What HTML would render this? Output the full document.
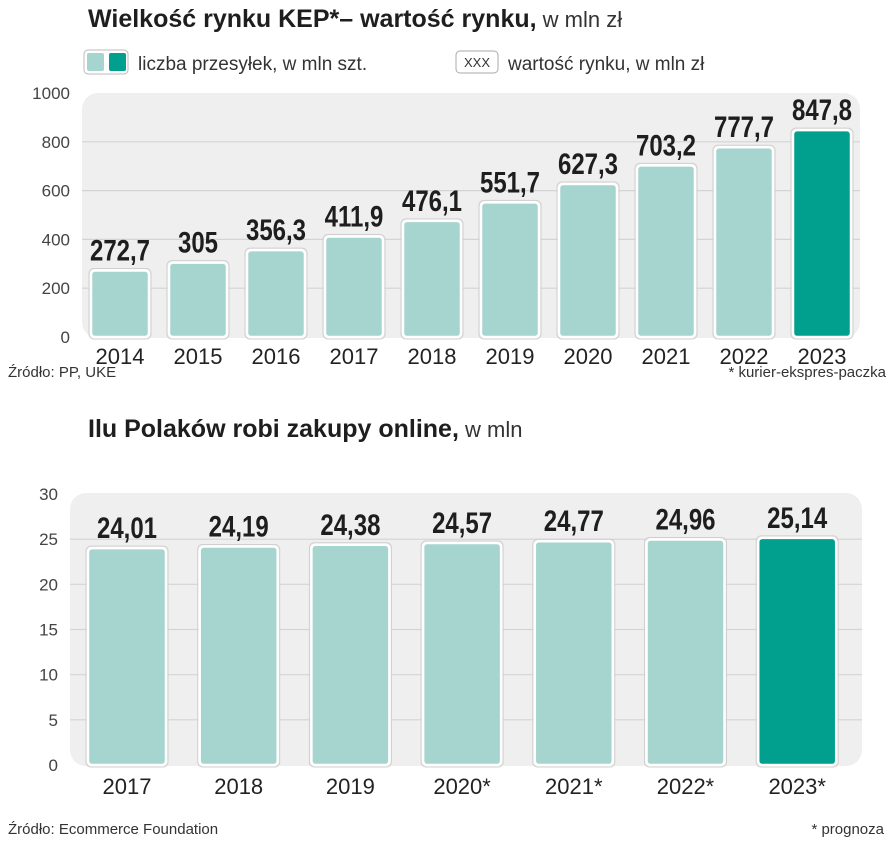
<!DOCTYPE html>
<html><head><meta charset="utf-8"><style>
body{margin:0;background:#fff;width:892px;height:854px;overflow:hidden;font-family:"Liberation Sans",sans-serif}
svg{display:block}
.t{font-family:"Liberation Sans",sans-serif}
.v{font-family:"Liberation Sans",sans-serif;font-weight:bold;fill:#1e1e1e}
</style></head><body>
<svg id="s" width="892" height="854">
<text class="t" x="88" y="27" font-size="25" font-weight="bold" fill="#1e1e1e">Wielkość rynku KEP*– wartość rynku,<tspan font-weight="normal" font-size="22" fill="#333"> w mln zł</tspan></text>
<g>
<rect x="84" y="50" width="44" height="24" rx="4" fill="#fff" stroke="#bbb"/>
<rect x="87" y="53" width="17" height="18" rx="2" fill="#a6d4cf"/>
<rect x="109" y="53" width="17" height="18" rx="2" fill="#009f8e"/>
<text class="t" x="138" y="70" font-size="19" fill="#333">liczba przesyłek, w mln szt.</text>
<rect x="456" y="51" width="42" height="22" rx="4" fill="#fff" stroke="#aaa"/>
<text class="t" x="477" y="67" font-size="13" fill="#333" text-anchor="middle">XXX</text>
<text class="t" x="508" y="70" font-size="19" fill="#333">wartość rynku, w mln zł</text>
</g>
<rect x="82" y="93" width="778" height="245" rx="16" fill="#efeff0"/>
<g id="top"></g>
<text class="t" x="8" y="377" font-size="15" fill="#333">Źródło: PP, UKE</text>
<text class="t" x="886" y="377" font-size="15" fill="#333" text-anchor="end">* kurier-ekspres-paczka</text>
<text class="t" x="88" y="437" font-size="25" font-weight="bold" fill="#1e1e1e">Ilu Polaków robi zakupy online,<tspan font-weight="normal" font-size="22" fill="#333"> w mln</tspan></text>
<rect x="70" y="493" width="792" height="273" rx="16" fill="#efeff0"/>
<g id="bot"></g>
<text class="t" x="8" y="834" font-size="15" fill="#333">Źródło: Ecommerce Foundation</text>
<text class="t" x="884" y="834" font-size="15" fill="#333" text-anchor="end">* prognoza</text>
</svg>
<script>
const topYears=["2014","2015","2016","2017","2018","2019","2020","2021","2022","2023"];
const topValues=[272.7,305,356.3,411.9,476.1,551.7,627.3,703.2,777.7,847.8];
const topLabels=["272,7","305","356,3","411,9","476,1","551,7","627,3","703,2","777,7","847,8"];
const topTicks=[0,200,400,600,800,1000];
const botYears=["2017","2018","2019","2020*","2021*","2022*","2023*"];
const botValues=[24.01,24.19,24.38,24.57,24.77,24.96,25.14];
const botLabels=["24,01","24,19","24,38","24,57","24,77","24,96","25,14"];
const botTicks=[0,5,10,15,20,25,30];
const NS="http://www.w3.org/2000/svg";
function mk(p,tag,a,txt){const e=document.createElementNS(NS,tag);for(const k in a)e.setAttribute(k,a[k]);if(txt!==undefined)e.textContent=txt;p.appendChild(e);return e;}
function draw(g,cfg){
  const y=v=>cfg.y0-(v/cfg.max)*(cfg.y0-cfg.y1);
  const x=i=>cfg.x0+i*cfg.step;
  cfg.ticks.forEach(t=>{
    if(t>0&&t<cfg.max){const l=mk(g,'line',{x1:cfg.px0,x2:cfg.px1,y1:y(t),y2:y(t),stroke:'#d4d4d6','stroke-width':1.2});
    
    }
    const tx=mk(g,'text',{x:cfg.tx,y:y(t)+6,'font-size':17,fill:'#444','text-anchor':'end',class:'t'},String(t));
    
    
  });
  cfg.vals.forEach((v,i)=>{
    const last=i===cfg.vals.length-1;
    mk(g,'rect',{x:x(i)-cfg.bw/2-2,y:y(v)-2,width:cfg.bw+4,height:y(0)-y(v)+4,rx:5,fill:'none',stroke:'#cfcfcf','stroke-width':1});
    const b=mk(g,'rect',{x:x(i)-cfg.bw/2,y:y(v),width:cfg.bw,height:y(0)-y(v),rx:4,fill:last?'#009f8e':'#a6d4cf',stroke:'#fff','stroke-width':2.5});
    
    
    const vl=mk(g,'text',{x:0,y:0,transform:'translate('+x(i)+','+(y(v)-10)+') scale(0.8,1)','font-size':cfg.vfs,'text-anchor':'middle',class:'v'},cfg.labels[i]);
    
    
    const cl=mk(g,'text',{x:x(i),y:cfg.cy,'font-size':22,fill:'#222','text-anchor':'middle',class:'t'},cfg.cats[i]);
    
    
  });
}
draw(document.getElementById('top'),{cats:topYears,vals:topValues,labels:topLabels,ticks:topTicks,max:1000,y0:337,y1:93,x0:120,step:78,bw:58,px0:82,px1:860,tx:70,cy:364,vfs:30});
draw(document.getElementById('bot'),{cats:botYears,vals:botValues,labels:botLabels,ticks:botTicks,max:30,y0:765,y1:494,x0:127,step:111.7,bw:78,px0:70,px1:862,tx:58,cy:794,vfs:30});
</script>
</body></html>
